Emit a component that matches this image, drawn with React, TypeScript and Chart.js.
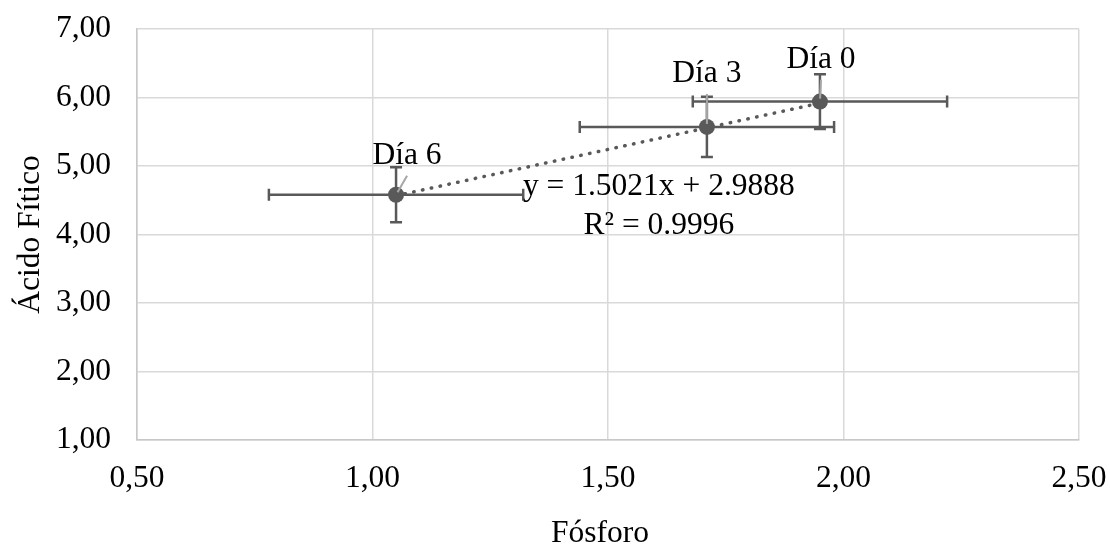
import React, { useEffect, useRef } from 'react';
import { Chart, registerables } from 'chart.js';

Chart.register(...registerables);

// ---- data ----
const dayLabels = ['Día 0', 'Día 3', 'Día 6'];
const fosforo = [1.95, 1.71, 1.05];
const acidoFitico = [5.94, 5.57, 4.58];
const fosforoError = [0.27, 0.27, 0.27];
const acidoFiticoError = [0.4, 0.44, 0.4];
const xTickLabels = ['0,50', '1,00', '1,50', '2,00', '2,50'];
const yTickLabels = ['1,00', '2,00', '3,00', '4,00', '5,00', '6,00', '7,00'];
const trendSlope = 1.5021;
const trendIntercept = 2.9888;
const trendEquation = 'y = 1.5021x + 2.9888';
const trendR2 = 'R² = 0.9996';
const xAxisTitle = 'Fósforo';
const yAxisTitle = 'Ácido Fítico';

// ---- styles / positions ----
const FONT = '"Liberation Serif", "Times New Roman", serif';
const FONT_SIZE = 31.5;
const MARK = '#595959';
const GRID = '#d9d9d9';
const LEADER = '#a6a6a6';
const labelOffsets = [
  { dx: 1, dy: -34 },
  { dx: 0, dy: -45 },
  { dx: 11, dy: -31 },
];
const equationAnchor = { x: 1.608, y: 4.58 };

const overlayPlugin = {
  id: 'overlay',
  beforeDatasetsDraw(chart: any) {
    const { ctx, scales } = chart;
    const xs = scales.x;
    const ys = scales.y;
    ctx.save();
    ctx.strokeStyle = MARK;
    ctx.lineWidth = 2.5;
    const cap = 6;
    for (let i = 0; i < fosforo.length; i++) {
      const px = xs.getPixelForValue(fosforo[i]);
      const py = ys.getPixelForValue(acidoFitico[i]);
      const x0 = xs.getPixelForValue(fosforo[i] - fosforoError[i]);
      const x1 = xs.getPixelForValue(fosforo[i] + fosforoError[i]);
      const y0 = ys.getPixelForValue(acidoFitico[i] + acidoFiticoError[i]);
      const y1 = ys.getPixelForValue(acidoFitico[i] - acidoFiticoError[i]);
      ctx.beginPath();
      ctx.moveTo(x0, py);
      ctx.lineTo(x1, py);
      ctx.moveTo(x0, py - cap);
      ctx.lineTo(x0, py + cap);
      ctx.moveTo(x1, py - cap);
      ctx.lineTo(x1, py + cap);
      ctx.moveTo(px, y0);
      ctx.lineTo(px, y1);
      ctx.moveTo(px - cap, y0);
      ctx.lineTo(px + cap, y0);
      ctx.moveTo(px - cap, y1);
      ctx.lineTo(px + cap, y1);
      ctx.stroke();
    }
    ctx.restore();
  },
  afterDatasetsDraw(chart: any) {
    const { ctx, scales, chartArea } = chart;
    const xs = scales.x;
    const ys = scales.y;
    ctx.save();
    ctx.font = `${FONT_SIZE}px ${FONT}`;
    ctx.fillStyle = '#000';
    ctx.textAlign = 'center';
    ctx.textBaseline = 'alphabetic';
    for (let i = 0; i < fosforo.length; i++) {
      const px = xs.getPixelForValue(fosforo[i]);
      const py = ys.getPixelForValue(acidoFitico[i]);
      const lx = px + labelOffsets[i].dx;
      const ly = py + labelOffsets[i].dy;
      const sx = lx;
      const sy = ly + 12;
      const ddx = px - sx;
      const ddy = py - sy;
      const len = Math.sqrt(ddx * ddx + ddy * ddy);
      const ex = px - (ddx / len) * 3;
      const ey = py - (ddy / len) * 3;
      ctx.strokeStyle = LEADER;
      ctx.lineWidth = 2;
      ctx.beginPath();
      ctx.moveTo(sx, sy);
      ctx.lineTo(ex, ey);
      ctx.stroke();
      ctx.fillText(dayLabels[i], lx, ly);
    }
    const ex = xs.getPixelForValue(equationAnchor.x);
    const ey = ys.getPixelForValue(equationAnchor.y);
    ctx.fillText(trendEquation, ex, ey);
    ctx.fillText(trendR2, ex, ey + 39);
    ctx.textBaseline = 'middle';
    ctx.fillText(xAxisTitle, 600, 534);
    ctx.translate(31, (chartArea.top + chartArea.bottom) / 2);
    ctx.rotate(-Math.PI / 2);
    ctx.fillText(yAxisTitle, 0, 0);
    ctx.restore();
  },
};

export default function App() {
  const canvasRef = useRef<HTMLCanvasElement | null>(null);

  useEffect(() => {
    const canvas = canvasRef.current;
    if (!canvas) return;
    const xMin = Math.min(...fosforo);
    const xMax = Math.max(...fosforo);
    const chart = new Chart(canvas, {
      type: 'scatter',
      data: {
        datasets: [
          {
            label: 'Ácido Fítico',
            data: fosforo.map((x, i) => ({ x, y: acidoFitico[i] })),
            backgroundColor: MARK,
            borderColor: MARK,
            borderWidth: 0,
            pointRadius: 8,
            pointHoverRadius: 8,
            showLine: false,
          },
          {
            type: 'line',
            label: 'Lineal',
            data: [
              { x: xMin, y: trendSlope * xMin + trendIntercept },
              { x: xMax, y: trendSlope * xMax + trendIntercept },
            ],
            borderColor: MARK,
            borderWidth: 3.5,
            borderDash: [0.5, 8.5],
            borderCapStyle: 'round',
            pointRadius: 0,
            fill: false,
          } as any,
        ],
      },
      options: {
        animation: false,
        responsive: false,
        devicePixelRatio: 1,
        layout: { padding: { top: 29, right: 31, left: 0, bottom: 0 } },
        plugins: {
          legend: { display: false },
          tooltip: { enabled: false },
          title: { display: false },
        },
        scales: {
          x: {
            type: 'linear',
            min: 0.5,
            max: 2.5,
            afterFit: (scale: any) => {
              scale.height = 106;
              scale.paddingLeft = 0;
              scale.paddingRight = 0;
            },
            ticks: {
              stepSize: 0.5,
              padding: 20,
              color: '#000',
              font: { family: FONT, size: FONT_SIZE },
              callback: (_v: any, index: number) => xTickLabels[index],
              maxRotation: 0,
            },
            grid: { color: GRID, lineWidth: 1.5, drawTicks: false },
            border: { display: true, color: '#c8c8c8', width: 1.5 },
          },
          y: {
            type: 'linear',
            min: 1,
            max: 7,
            afterFit: (scale: any) => {
              scale.width = 137;
              scale.paddingTop = 0;
              scale.paddingBottom = 0;
            },
            ticks: {
              stepSize: 1,
              padding: 26,
              color: '#000',
              font: { family: FONT, size: FONT_SIZE },
              callback: (_v: any, index: number) => yTickLabels[index],
            },
            grid: { color: GRID, lineWidth: 1.5, drawTicks: false },
            border: { display: true, color: '#c8c8c8', width: 1.5 },
          },
        },
      },
      plugins: [overlayPlugin],
    });
    return () => chart.destroy();
  }, []);

  return (
    <div style={{ position: 'fixed', left: 0, top: 0, width: 1110, height: 546, background: '#fff' }}>
      <canvas ref={canvasRef} width={1110} height={546} style={{ width: 1110, height: 546 }} />
    </div>
  );
}
